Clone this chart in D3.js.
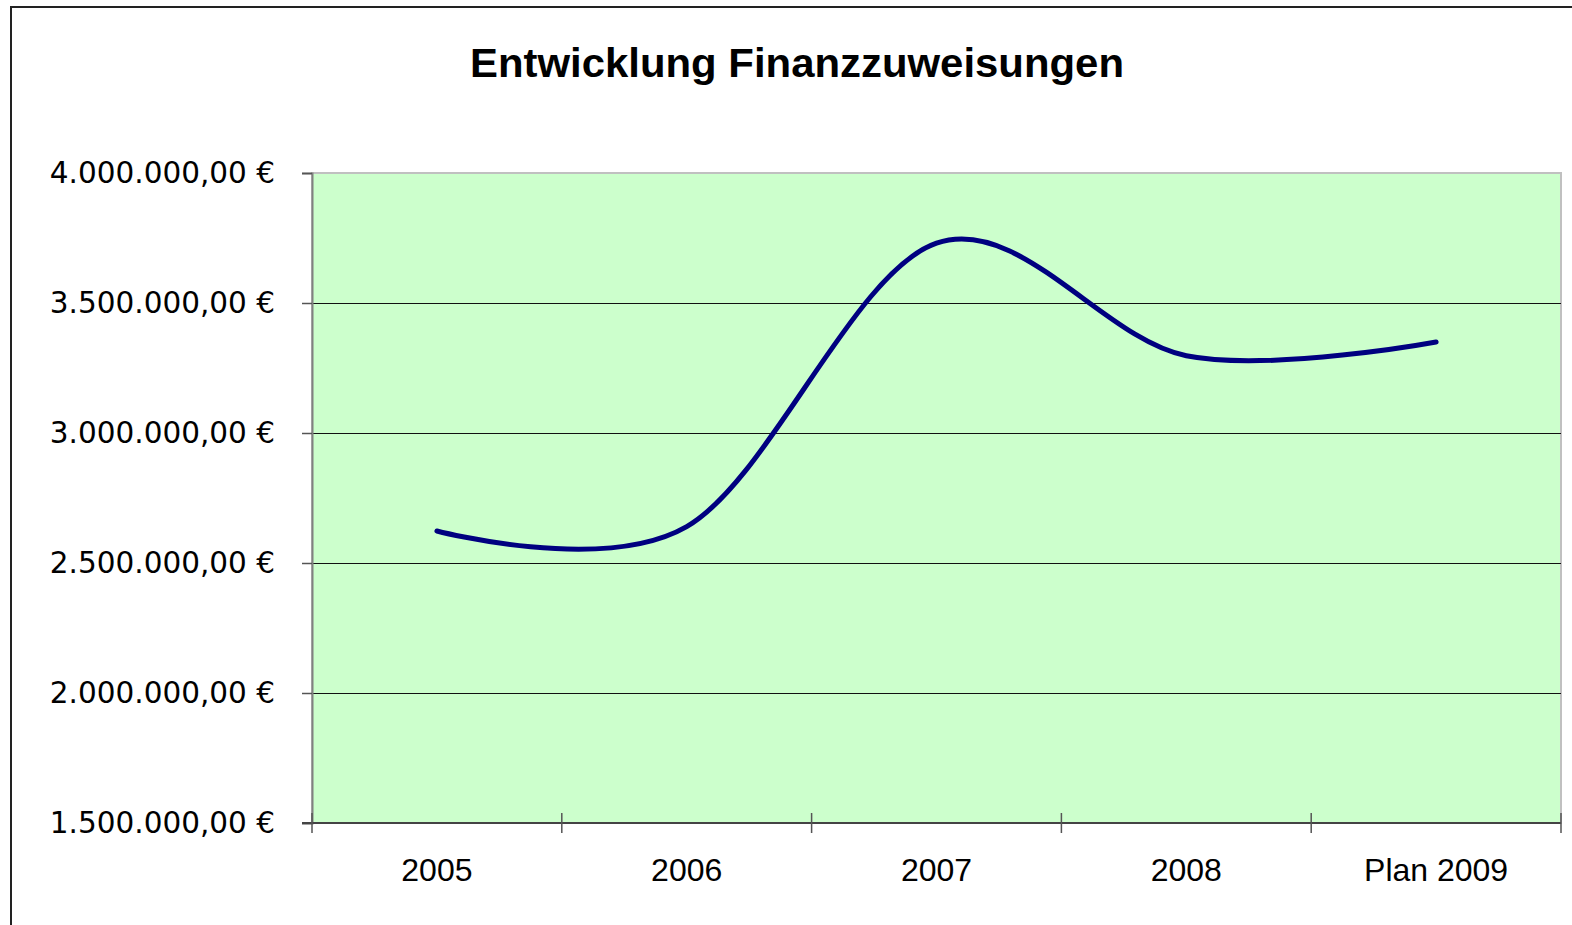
<!DOCTYPE html>
<html>
<head>
<meta charset="utf-8">
<script src="https://cdn.jsdelivr.net/npm/d3@7"></script>
<style>
  body { margin: 0; background: #fff; }
  svg { display: block; }
</style>
</head>
<body>
<div id="chart"></div>
<script>
// values
const categories = ["2005", "2006", "2007", "2008", "Plan 2009"];
const amounts = [2623000, 2640000, 3730000, 3297000, 3350000];
const yTicks = [1500000, 2000000, 2500000, 3000000, 3500000, 4000000];
const title = "Entwicklung Finanzzuweisungen";

const W = 1572, H = 925;
const plot = { left: 312, right: 1561, top: 173, bottom: 823 };

const green = "#ccffcc";
const navy = "#000080";

const de = d3.formatLocale({ decimal: ",", thousands: ".", grouping: [3], currency: ["", " €"] });
const fmt = de.format(",.2f");

const svg = d3.select("#chart").append("svg")
  .attr("width", W)
  .attr("height", H);

// outer chart border (right and bottom run off the page)
svg.append("rect")
  .attr("x", 11).attr("y", 7)
  .attr("width", W + 20).attr("height", H + 20)
  .attr("fill", "#fff")
  .attr("stroke", "#222")
  .attr("stroke-width", 2);

svg.append("text")
  .attr("x", 797).attr("y", 77)
  .attr("text-anchor", "middle")
  .attr("textLength", 654)
  .attr("lengthAdjust", "spacingAndGlyphs")
  .style("font-family", "'Liberation Sans', Arial, sans-serif")
  .style("font-weight", "bold")
  .style("font-size", "41px")
  .text(title);

const x = d3.scaleBand()
  .domain(categories)
  .range([plot.left, plot.right]);

const y = d3.scaleLinear()
  .domain([1500000, 4000000])
  .range([plot.bottom, plot.top]);

// plot area
svg.append("rect")
  .attr("x", plot.left).attr("y", plot.top)
  .attr("width", plot.right - plot.left)
  .attr("height", plot.bottom - plot.top)
  .attr("fill", green)
  .attr("stroke", "#c0c0c0")
  .attr("stroke-width", 2);

// gridlines
svg.append("g")
  .selectAll("line")
  .data(yTicks.filter(d => d > 1500000 && d < 4000000))
  .join("line")
  .attr("x1", plot.left).attr("x2", plot.right)
  .attr("y1", d => Math.round(y(d)) + 0.5)
  .attr("y2", d => Math.round(y(d)) + 0.5)
  .attr("stroke", "#111")
  .attr("stroke-width", 1);

// y axis
const gy = svg.append("g")
  .attr("transform", `translate(${plot.left},0)`)
  .call(d3.axisLeft(y).tickValues(yTicks).tickSize(10).tickPadding(27).tickFormat(d => fmt(d) + " €"));
gy.select(".domain").attr("stroke", "#808080").attr("stroke-width", 2);
gy.selectAll(".tick line").attr("stroke", "#555").attr("stroke-width", 1.5);
gy.selectAll(".tick text")
  .style("font-family", "'DejaVu Sans', Verdana, sans-serif")
  .style("font-size", "29.5px")
  .attr("fill", "#000");

// x axis: ticks sit between categories, as in the spreadsheet chart
const edges = categories.map(c => x(c)).concat([plot.right]);
const gx = svg.append("g");
gx.append("line")
  .attr("x1", plot.left - 10).attr("x2", plot.right)
  .attr("y1", plot.bottom).attr("y2", plot.bottom)
  .attr("stroke", "#444").attr("stroke-width", 2);
gx.selectAll(".edge")
  .data(edges)
  .join("line")
  .attr("class", "edge")
  .attr("x1", d => d).attr("x2", d => d)
  .attr("y1", plot.bottom - 10).attr("y2", plot.bottom + 10)
  .attr("stroke", "#555").attr("stroke-width", 1.5);
gx.selectAll(".lbl")
  .data(categories)
  .join("text")
  .attr("class", "lbl")
  .attr("x", d => x(d) + x.bandwidth() / 2)
  .attr("y", 881)
  .attr("text-anchor", "middle")
  .style("font-family", "'Liberation Sans', Arial, sans-serif")
  .style("font-size", "32px")
  .text(d => d);

// smoothed line
const line = d3.line()
  .x((d, i) => x(categories[i]) + x.bandwidth() / 2)
  .y(d => y(d))
  .curve(d3.curveCardinal.tension(0));

svg.append("path")
  .datum(amounts)
  .attr("d", line)
  .attr("fill", "none")
  .attr("stroke", navy)
  .attr("stroke-width", 5)
  .attr("stroke-linecap", "round")
  .attr("stroke-linejoin", "round");
</script>
</body>
</html>
